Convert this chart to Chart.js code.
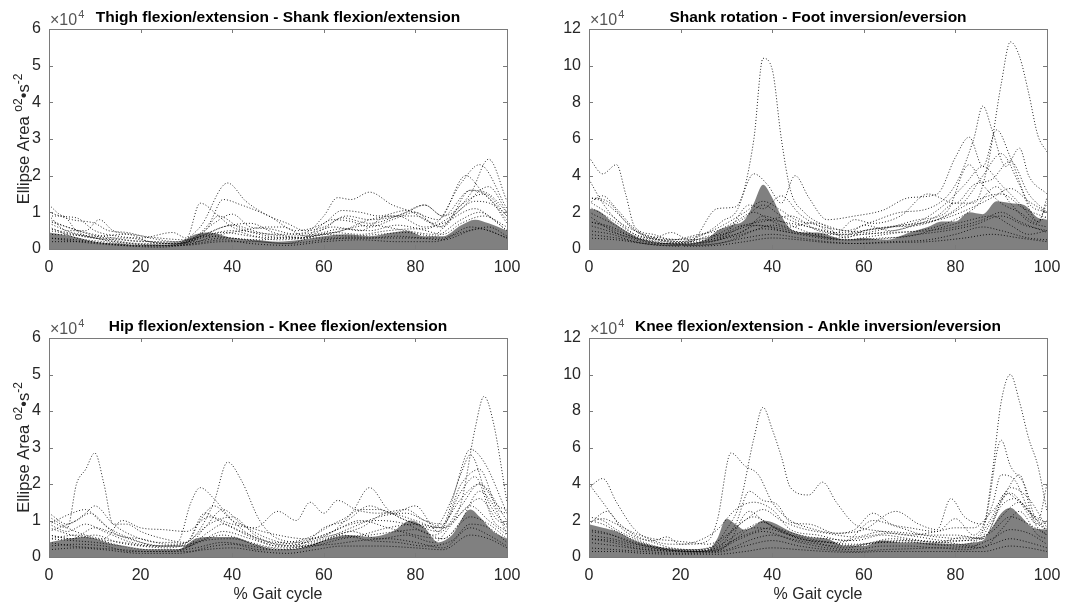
<!DOCTYPE html>
<html>
<head>
<meta charset="utf-8">
<script src="https://cdn.jsdelivr.net/npm/chart.js@4.4.1/dist/chart.umd.min.js"></script>
<style>
  html, body { margin: 0; padding: 0; background: #fff; }
  #wrap { position: relative; width: 1078px; height: 605px; overflow: hidden; }
  canvas { position: absolute; }
</style>
</head>
<body>
<div id="wrap">
  <canvas id="c1" width="539" height="300" style="left:0;top:0"></canvas>
  <canvas id="c2" width="539" height="300" style="left:539px;top:0"></canvas>
  <canvas id="c3" width="539" height="305" style="left:0;top:300px"></canvas>
  <canvas id="c4" width="539" height="305" style="left:539px;top:300px"></canvas>
</div>
<script>
// values are in units of 10^4 (deg^2 s^-2), x is % gait cycle
const xTicks = [0, 20, 40, 60, 80, 100];

// --- Thigh flexion/extension - Shank flexion/extension ---
const tsArea = [[0,0.45],[5,0.35],[10,0.2],[15,0.15],[20,0.1],[28,0.15],[32,0.4],[35,0.45],[40,0.3],[45,0.25],[50,0.2],[55,0.25],[60,0.35],[65,0.4],[70,0.35],[75,0.45],[78,0.5],[82,0.35],[86,0.35],[90,0.65],[93,0.8],[96,0.7],[100,0.5]];
const tsLines = [
  [[0,1.2],[3,0.9],[6,0.85],[10,0.5],[15,0.35],[20,0.3],[27,0.45],[30,0.3],[33,1.25],[37,0.9],[40,0.6],[45,0.45],[50,0.4],[56,0.45],[60,0.9],[63,1.4],[66,1.35],[70,1.55],[75,1.2],[80,1.0],[85,0.8],[91,2.0],[95,1.5],[100,0.9]],
  [[0,1.0],[5,0.8],[10,0.7],[13,0.5],[17,0.45],[22,0.3],[28,0.2],[33,0.6],[39,1.8],[43,1.3],[48,0.9],[52,0.7],[56,0.5],[60,0.6],[65,0.9],[70,0.8],[76,0.9],[82,1.2],[86,0.9],[92,1.5],[96,2.45],[100,1.3]],
  [[0,0.9],[4,0.5],[8,0.5],[11,0.8],[14,0.5],[18,0.4],[24,0.3],[30,0.25],[35,0.7],[38,1.35],[42,1.2],[48,0.9],[54,0.5],[60,0.7],[64,1.05],[68,1.0],[72,0.9],[78,1.05],[84,0.7],[90,1.8],[94,2.3],[100,1.1]],
  [[0,0.7],[5,0.45],[10,0.35],[17,0.4],[22,0.2],[28,0.15],[34,0.5],[37,0.9],[42,0.55],[48,0.35],[55,0.3],[62,0.8],[66,0.75],[70,0.6],[75,0.8],[80,1.0],[85,0.6],[90,1.1],[96,1.7],[100,1.0]],
  [[0,0.5],[5,0.4],[10,0.3],[17,0.3],[25,0.15],[32,0.3],[38,0.6],[44,0.7],[49,0.45],[55,0.3],[62,0.6],[68,0.5],[74,0.9],[80,0.9],[86,0.6],[92,1.6],[96,1.4],[100,0.7]],
  [[0,0.8],[5,0.55],[12,0.3],[20,0.15],[28,0.15],[35,0.4],[40,0.5],[45,0.35],[52,0.3],[58,0.35],[64,0.5],[70,0.8],[76,0.9],[82,0.6],[86,0.7],[93,1.1],[97,0.8],[100,0.5]],
  [[0,0.3],[6,0.25],[12,0.15],[20,0.1],[28,0.1],[34,0.35],[40,0.3],[46,0.2],[52,0.15],[60,0.4],[66,0.35],[72,0.4],[78,0.45],[84,0.35],[90,0.8],[94,1.0],[100,0.5]],
  [[0,0.6],[6,0.3],[12,0.2],[20,0.1],[26,0.15],[32,0.2],[38,0.3],[46,0.25],[52,0.3],[58,0.3],[64,0.3],[70,0.3],[76,0.35],[82,0.3],[86,0.3],[92,0.6],[96,0.5],[100,0.3]],
  [[0,0.4],[8,0.35],[14,0.2],[24,0.1],[30,0.12],[36,0.35],[42,0.5],[48,0.6],[51,0.6],[56,0.35],[62,0.45],[70,0.65],[78,0.5],[84,0.4],[90,1.2],[95,1.5],[100,0.9]],
  [[0,0.9],[3,0.9],[6,0.5],[10,0.3],[16,0.25],[22,0.2],[30,0.15],[36,0.7],[40,0.95],[44,0.6],[48,0.55],[54,0.4],[60,0.55],[64,0.85],[70,0.7],[78,1.0],[82,1.2],[86,0.9],[92,1.6],[96,1.5],[100,1.0]],
  [[0,0.3],[10,0.15],[20,0.08],[30,0.1],[38,0.2],[45,0.2],[52,0.15],[60,0.25],[66,0.3],[72,0.3],[80,0.3],[86,0.25],[92,0.5],[96,0.6],[100,0.35]],
  [[0,0.55],[6,0.4],[12,0.25],[18,0.15],[26,0.1],[32,0.25],[38,0.45],[44,0.35],[50,0.25],[56,0.3],[62,0.45],[68,0.4],[74,0.5],[80,0.55],[86,0.4],[90,0.7],[95,0.9],[100,0.6]],
  [[0,0.2],[8,0.2],[16,0.1],[24,0.05],[32,0.15],[38,0.25],[44,0.15],[52,0.1],[60,0.2],[68,0.25],[76,0.2],[84,0.2],[90,0.45],[94,0.55],[100,0.3]],
  [[0,0.75],[4,0.6],[8,0.45],[14,0.3],[20,0.2],[28,0.2],[34,0.4],[40,0.65],[46,0.45],[52,0.35],[58,0.4],[64,0.55],[70,0.5],[76,0.65],[82,0.55],[88,0.9],[93,1.3],[97,1.2],[100,0.8]]
];

// --- Shank rotation - Foot inversion/eversion ---
const sfArea = [[0,2.2],[2,2.1],[5,1.5],[8,1.0],[12,0.5],[18,0.3],[22,0.3],[26,0.6],[28,1.0],[31,1.3],[34,1.6],[36,2.5],[38,3.5],[40,2.8],[42,1.8],[44,1.1],[47,0.9],[50,0.9],[53,0.7],[56,0.5],[60,0.6],[65,0.5],[70,0.9],[74,1.2],[77,1.5],[80,1.5],[83,2.0],[86,1.9],[89,2.6],[92,2.5],[95,2.4],[98,1.7],[100,1.6]];
const sfLines = [
  [[0,2.6],[5,1.8],[10,0.8],[15,0.5],[20,0.4],[25,0.8],[29,1.5],[33,2.5],[36,6.0],[38,10.4],[40,9.8],[42,6.0],[44,3.2],[47,2.0],[52,1.2],[56,0.6],[60,1.0],[66,1.2],[72,1.5],[78,2.5],[82,3.5],[86,4.5],[90,3.5],[94,2.5],[98,1.5],[100,2.5]],
  [[0,1.5],[5,1.2],[10,0.6],[16,0.3],[22,0.4],[28,0.6],[34,1.3],[40,1.2],[46,0.9],[52,0.8],[58,0.8],[64,0.9],[70,1.2],[76,1.8],[80,2.5],[84,2.5],[87,4.5],[90,9.0],[92,11.3],[94,10.5],[96,8.5],[98,6.2],[100,5.3]],
  [[0,5.0],[3,4.1],[6,4.6],[8,3.0],[10,1.2],[14,0.8],[18,0.5],[22,0.6],[26,0.9],[30,1.4],[34,2.0],[38,2.6],[42,2.1],[46,1.5],[50,1.4],[56,1.0],[62,1.5],[68,2.0],[74,2.2],[80,3.5],[84,6.0],[86,7.8],[88,6.5],[91,4.5],[94,5.5],[96,4.0],[100,3.0]],
  [[0,3.8],[3,2.5],[6,1.6],[10,1.0],[16,0.5],[22,0.4],[28,2.2],[32,2.3],[36,4.1],[39,3.5],[42,2.5],[45,4.0],[48,2.8],[52,1.6],[58,1.8],[64,2.1],[70,2.8],[76,3.0],[80,5.0],[83,6.1],[86,4.5],[89,6.5],[92,5.0],[96,2.5],[100,2.0]],
  [[0,2.8],[4,2.6],[8,1.5],[12,0.7],[18,0.5],[24,0.8],[28,1.0],[32,1.5],[36,2.0],[40,1.5],[44,1.2],[48,1.4],[54,0.9],[58,1.6],[62,1.4],[68,1.8],[74,3.0],[80,2.5],[84,3.5],[88,3.8],[92,4.8],[96,3.0],[100,2.0]],
  [[0,2.3],[5,1.6],[10,0.8],[15,0.5],[20,0.3],[26,0.7],[30,0.9],[35,2.4],[38,2.2],[42,2.9],[46,1.9],[50,1.3],[56,1.0],[60,0.9],[66,1.2],[72,1.6],[78,2.0],[83,4.6],[86,3.5],[90,2.5],[94,2.0],[98,1.4],[100,2.8]],
  [[0,1.8],[5,1.0],[10,0.5],[16,0.3],[22,0.3],[28,0.6],[34,1.0],[38,1.8],[42,1.5],[48,0.9],[54,0.6],[60,0.8],[66,0.9],[72,1.0],[78,1.4],[84,2.2],[89,3.4],[92,2.5],[96,1.5],[100,1.2]],
  [[0,1.0],[5,0.8],[10,0.4],[16,0.2],[24,0.2],[30,0.4],[36,1.0],[40,1.3],[46,0.9],[52,0.6],[58,0.5],[64,0.6],[70,0.7],[76,1.1],[82,1.5],[88,1.8],[92,1.3],[96,0.8],[100,1.0]],
  [[0,0.6],[6,0.5],[12,0.3],[20,0.2],[28,0.3],[34,0.6],[40,0.8],[46,0.6],[52,0.4],[58,0.3],[66,0.4],[74,0.5],[80,0.8],[86,1.2],[90,1.0],[96,0.6],[100,0.5]],
  [[0,2.5],[3,2.9],[6,2.2],[10,1.1],[14,0.6],[18,0.9],[22,0.5],[28,0.7],[34,1.2],[38,1.6],[44,1.4],[50,1.1],[56,0.7],[60,1.3],[66,1.0],[72,1.4],[78,1.7],[84,2.3],[88,2.8],[92,3.3],[96,2.6],[100,2.0]],
  [[0,1.3],[4,1.0],[8,0.7],[14,0.4],[20,0.25],[26,0.4],[32,0.7],[38,1.1],[44,0.9],[50,0.7],[56,0.5],[62,0.7],[68,0.9],[74,1.0],[80,1.2],[86,1.6],[90,2.0],[94,1.5],[100,0.9]],
  [[0,2.0],[5,1.4],[10,0.7],[16,0.4],[22,0.35],[28,0.5],[34,1.3],[38,1.5],[44,1.8],[50,1.0],[56,0.8],[62,1.1],[68,1.3],[76,1.6],[82,2.6],[86,4.0],[90,5.2],[94,3.5],[98,1.5],[100,1.8]],
  [[0,1.5],[4,1.2],[8,0.8],[14,0.4],[20,0.25],[26,0.35],[32,0.8],[37,1.3],[42,1.0],[48,0.7],[54,0.5],[60,0.5],[66,0.6],[72,0.8],[78,1.0],[84,1.3],[90,1.8],[95,1.3],[100,1.0]],
  [[0,0.8],[6,0.6],[12,0.3],[20,0.15],[28,0.2],[34,0.4],[40,0.6],[46,0.5],[52,0.35],[58,0.3],[66,0.35],[74,0.4],[82,0.6],[88,0.8],[94,0.6],[100,0.4]],
  [[0,2.8],[3,2.6],[6,2.0],[10,1.0],[16,0.6],[22,0.5],[28,0.8],[34,1.7],[38,2.4],[42,1.8],[48,1.2],[54,0.9],[60,1.0],[66,1.2],[72,1.3],[78,1.8],[84,2.6],[90,3.0],[95,2.2],[100,1.7]]
];

// --- Hip flexion/extension - Knee flexion/extension ---
const hkArea = [[0,0.4],[4,0.5],[8,0.55],[10,0.5],[14,0.35],[18,0.25],[22,0.2],[28,0.2],[32,0.5],[35,0.55],[40,0.55],[45,0.35],[50,0.2],[55,0.25],[60,0.45],[65,0.6],[70,0.55],[75,0.7],[79,1.0],[82,0.8],[85,0.4],[88,0.6],[92,1.3],[94,1.1],[97,0.7],[100,0.5]];
const hkLines = [
  [[0,1.0],[4,0.8],[6,2.0],[8,2.4],[10,2.85],[12,2.0],[14,0.9],[17,0.9],[20,0.7],[25,0.5],[30,0.4],[33,1.0],[36,1.4],[40,1.0],[44,0.8],[50,0.6],[56,0.5],[62,0.6],[68,0.8],[74,1.2],[80,1.0],[85,0.8],[90,1.6],[94,2.0],[100,1.0]],
  [[0,0.6],[5,0.5],[10,0.6],[15,0.4],[20,0.3],[26,0.25],[32,0.4],[38,0.6],[44,0.4],[50,0.25],[56,0.3],[62,0.5],[68,0.6],[74,0.8],[80,0.9],[86,0.8],[90,1.5],[93,3.5],[95,4.4],[97,3.7],[100,1.5]],
  [[0,0.8],[5,0.6],[10,0.5],[16,0.4],[22,0.3],[28,0.3],[32,0.6],[36,1.5],[39,2.6],[42,2.1],[46,1.0],[50,0.5],[56,0.4],[62,0.7],[68,1.3],[72,1.3],[78,1.0],[84,0.8],[88,1.6],[92,2.95],[95,2.6],[100,1.2]],
  [[0,1.2],[4,0.9],[8,1.2],[10,1.4],[14,0.9],[18,0.6],[24,0.4],[28,0.4],[31,1.5],[33,1.9],[36,1.6],[40,1.0],[44,0.6],[50,0.4],[56,0.5],[62,0.9],[66,1.2],[70,1.9],[74,1.3],[80,0.9],[85,0.7],[90,2.3],[92,2.8],[96,1.5],[100,0.8]],
  [[0,1.1],[4,0.8],[8,0.6],[12,0.5],[16,1.0],[20,0.8],[25,0.75],[30,0.7],[35,1.1],[40,0.9],[45,0.8],[50,1.25],[54,1.0],[57,1.5],[60,1.2],[63,1.55],[67,1.3],[72,1.2],[78,1.3],[82,1.0],[86,0.9],[90,2.0],[94,2.4],[98,1.3],[100,1.2]],
  [[0,0.9],[5,1.2],[8,1.3],[11,1.0],[15,0.6],[20,0.5],[26,0.35],[30,0.4],[34,1.2],[37,1.0],[40,0.8],[45,0.5],[50,0.3],[56,0.4],[60,0.8],[65,1.0],[70,1.4],[75,1.2],[80,1.4],[85,0.7],[90,1.8],[93,2.2],[97,1.0],[100,0.7]],
  [[0,0.5],[6,0.6],[10,0.5],[16,0.3],[22,0.2],[28,0.2],[34,0.5],[38,0.7],[44,0.5],[50,0.3],[56,0.3],[62,0.55],[66,0.7],[72,0.5],[78,0.6],[84,0.4],[88,0.9],[92,1.4],[96,1.0],[100,0.6]],
  [[0,0.3],[6,0.35],[12,0.3],[18,0.15],[26,0.15],[32,0.25],[38,0.4],[44,0.3],[50,0.2],[56,0.3],[62,0.35],[68,0.45],[74,0.5],[80,0.4],[86,0.25],[92,0.8],[96,0.6],[100,0.3]],
  [[0,0.7],[6,1.0],[9,1.2],[13,0.8],[18,0.5],[24,0.3],[30,0.4],[35,0.9],[40,1.1],[45,0.6],[50,0.35],[56,0.45],[62,0.7],[68,1.0],[74,0.8],[80,0.6],[86,0.5],[90,1.0],[94,1.8],[98,1.2],[100,0.6]],
  [[0,0.4],[5,0.3],[10,0.25],[16,0.2],[22,0.15],[30,0.15],[36,0.3],[40,0.35],[46,0.2],[52,0.2],[58,0.35],[64,0.6],[70,0.45],[76,0.4],[82,0.3],[88,0.45],[92,0.9],[96,0.8],[100,0.4]],
  [[0,0.6],[5,0.5],[10,0.8],[15,0.6],[20,0.4],[25,0.3],[30,0.3],[35,0.7],[38,0.9],[42,0.7],[48,0.4],[54,0.3],[60,0.5],[66,0.8],[72,1.1],[78,1.2],[82,1.0],[86,0.8],[90,1.4],[94,2.0],[98,1.4],[100,1.3]],
  [[0,0.5],[5,0.45],[10,0.4],[16,0.3],[22,0.2],[28,0.2],[34,0.45],[40,0.5],[46,0.3],[52,0.2],[58,0.3],[64,0.5],[70,0.6],[76,0.7],[80,0.75],[86,0.5],[92,1.1],[96,0.9],[100,0.5]],
  [[0,0.2],[6,0.25],[12,0.2],[20,0.1],[28,0.1],[34,0.2],[40,0.25],[46,0.15],[52,0.1],[58,0.2],[64,0.3],[72,0.3],[80,0.25],[86,0.2],[92,0.6],[96,0.5],[100,0.25]],
  [[0,0.9],[4,0.7],[8,0.9],[12,0.7],[18,0.4],[24,0.3],[30,0.3],[34,0.8],[38,1.3],[42,0.9],[48,0.5],[54,0.35],[60,0.6],[66,0.9],[72,1.0],[78,0.9],[84,0.6],[90,1.2],[94,1.6],[98,1.0],[100,0.9]]
];

// --- Knee flexion/extension - Ankle inversion/eversion ---
const kaArea = [[0,1.8],[3,1.6],[6,1.4],[10,0.9],[14,0.6],[18,0.4],[22,0.35],[26,0.4],[28,1.0],[30,2.1],[32,1.8],[34,1.5],[36,1.7],[38,2.0],[40,1.9],[44,1.4],[48,1.1],[52,1.0],[56,0.6],[60,0.6],[64,0.9],[68,0.8],[72,0.8],[76,0.75],[80,0.7],[84,0.8],[86,0.9],[88,1.6],[90,2.4],[92,2.7],[94,2.3],[97,1.6],[100,1.5]];
const kaLines = [
  [[0,2.0],[3,1.8],[6,1.4],[10,0.9],[16,0.5],[22,0.4],[27,0.6],[30,1.5],[33,3.0],[36,6.5],[38,8.2],[40,7.0],[42,5.5],[44,3.8],[48,3.4],[51,4.1],[54,3.0],[58,1.8],[64,1.4],[70,1.2],[76,1.4],[80,1.6],[84,1.6],[88,2.5],[92,3.5],[96,2.5],[100,1.8]],
  [[0,1.0],[5,0.8],[10,0.5],[16,0.35],[22,0.3],[28,0.5],[34,1.2],[40,1.6],[46,1.0],[52,0.8],[58,0.7],[64,0.8],[70,0.9],[76,0.8],[82,0.9],[86,1.5],[88,4.5],[90,8.5],[92,10.0],[94,8.5],[96,6.5],[98,5.0],[100,2.5]],
  [[0,3.8],[3,4.3],[6,3.0],[10,1.5],[14,0.9],[18,0.7],[22,0.7],[26,0.9],[28,2.0],[31,5.7],[34,5.0],[37,4.5],[40,3.0],[44,2.0],[48,1.6],[54,1.3],[60,1.5],[67,2.5],[72,1.8],[76,1.5],[79,3.2],[82,2.2],[86,1.8],[90,6.4],[92,5.0],[95,4.0],[98,2.0],[100,4.0]],
  [[0,4.0],[3,3.0],[6,2.0],[10,1.2],[14,0.8],[18,0.5],[24,0.4],[28,0.7],[32,1.8],[35,3.6],[38,3.1],[41,2.9],[44,1.9],[48,1.8],[54,1.3],[58,1.5],[62,2.4],[66,1.8],[70,1.6],[76,1.4],[80,2.1],[84,1.2],[88,2.8],[90,4.5],[93,4.2],[96,2.6],[100,1.5]],
  [[0,1.8],[4,2.5],[7,1.6],[10,1.1],[14,0.9],[17,1.1],[20,0.7],[24,0.9],[28,1.5],[32,2.6],[36,3.0],[40,2.6],[44,1.5],[50,1.2],[56,0.9],[62,2.0],[68,1.6],[74,1.2],[80,1.2],[86,1.0],[90,3.0],[94,4.5],[97,2.0],[100,1.2]],
  [[0,1.2],[5,1.0],[10,0.7],[16,0.5],[22,0.4],[28,0.6],[34,1.5],[38,1.9],[42,1.4],[48,0.9],[54,0.6],[60,0.7],[66,1.0],[72,0.9],[78,0.8],[84,0.6],[88,2.0],[92,3.8],[96,3.2],[100,1.6]],
  [[0,0.8],[6,0.6],[12,0.4],[18,0.3],[24,0.25],[30,0.4],[36,1.0],[40,1.2],[46,0.8],[52,0.5],[58,0.4],[64,0.6],[70,0.6],[76,0.5],[82,0.5],[88,1.0],[92,1.5],[96,1.3],[100,0.7]],
  [[0,1.5],[4,1.3],[8,0.9],[14,0.5],[20,0.35],[26,0.3],[30,0.6],[35,2.5],[38,2.0],[42,1.4],[48,1.0],[54,0.8],[60,1.1],[66,1.3],[72,1.1],[78,0.9],[84,0.9],[88,2.2],[91,3.5],[94,3.0],[98,1.8],[100,2.0]],
  [[0,0.5],[6,0.4],[12,0.3],[20,0.2],[28,0.25],[34,0.6],[40,0.9],[46,0.6],[52,0.4],[58,0.3],[64,0.4],[70,0.45],[76,0.5],[82,0.4],[88,0.7],[92,1.0],[96,0.8],[100,0.5]],
  [[0,2.2],[3,2.0],[6,1.5],[10,1.0],[16,0.5],[22,0.35],[28,0.5],[32,1.6],[36,2.2],[40,1.7],[46,1.2],[52,1.0],[58,0.9],[64,1.2],[70,1.0],[76,0.8],[82,1.1],[86,1.0],[90,2.8],[93,3.2],[97,2.2],[100,1.4]],
  [[0,1.0],[5,0.9],[10,0.6],[16,0.4],[22,0.3],[28,0.4],[33,1.0],[38,1.4],[44,1.0],[50,0.7],[56,0.5],[62,0.8],[68,0.9],[74,0.7],[80,0.6],[86,0.5],[90,1.5],[94,2.5],[98,1.2],[100,1.0]],
  [[0,1.4],[5,1.2],[10,0.8],[16,0.45],[22,0.3],[28,0.4],[32,1.0],[36,1.6],[40,1.5],[46,1.0],[52,0.8],[58,0.6],[64,0.8],[70,0.8],[76,0.7],[82,0.7],[88,1.4],[92,2.2],[96,1.8],[100,1.2]],
  [[0,0.3],[6,0.3],[12,0.2],[20,0.15],[28,0.15],[34,0.3],[40,0.5],[46,0.4],[52,0.3],[58,0.25],[64,0.3],[70,0.3],[78,0.3],[86,0.3],[92,0.6],[96,0.5],[100,0.3]],
  [[0,1.9],[3,2.1],[6,1.8],[10,1.3],[14,1.0],[18,0.9],[22,0.8],[26,0.7],[30,1.2],[34,2.0],[38,2.6],[42,2.0],[46,1.6],[52,1.3],[58,1.1],[64,1.4],[70,1.3],[76,1.1],[82,1.0],[86,1.1],[90,2.2],[94,3.0],[98,1.8],[100,1.5]]
];

const panels = [
  { id: "c1", title: "Thigh flexion/extension - Shank flexion/extension", area: tsArea, lines: tsLines, yMax: 6, yStep: 1, box: [49, 507, 29, 249], yLabel: true, xLabel: false },
  { id: "c2", title: "Shank rotation - Foot inversion/eversion", area: sfArea, lines: sfLines, yMax: 12, yStep: 2, box: [50, 508, 29, 249], yLabel: false, xLabel: false },
  { id: "c3", title: "Hip flexion/extension - Knee flexion/extension", area: hkArea, lines: hkLines, yMax: 6, yStep: 1, box: [49, 507, 38, 257], yLabel: true, xLabel: true },
  { id: "c4", title: "Knee flexion/extension - Ankle inversion/eversion", area: kaArea, lines: kaLines, yMax: 12, yStep: 2, box: [50, 508, 38, 257], yLabel: false, xLabel: true }
];

const FONT = "'Liberation Sans', Arial, Helvetica, sans-serif";
const TEXT = "#262626";

const toXY = (pairs) => pairs.map((p) => ({ x: p[0], y: p[1] }));

function drawRich(ctx, parts, cx, cy) {
  // parts: [text, isSuperscript]
  let total = 0;
  parts.forEach((p) => {
    ctx.font = (p[1] ? "12px " : "16.5px ") + FONT;
    total += ctx.measureText(p[0]).width;
  });
  let x = cx - total / 2;
  parts.forEach((p) => {
    ctx.font = (p[1] ? "12px " : "16.5px ") + FONT;
    ctx.fillText(p[0], x, p[1] ? cy - 7 : cy);
    x += ctx.measureText(p[0]).width;
  });
}

const decorPlugin = {
  id: "decor",
  afterDraw(chart, args, opts) {
    const ctx = chart.ctx;
    const a = chart.chartArea;
    const xs = chart.scales.x;
    const ys = chart.scales.y;
    ctx.save();

    // axes box
    ctx.strokeStyle = "#7a7a7a";
    ctx.lineWidth = 1;
    ctx.strokeRect(Math.round(a.left) + 0.5, Math.round(a.top) + 0.5, Math.round(a.right - a.left), Math.round(a.bottom - a.top));

    // inward ticks on all four sides
    ctx.beginPath();
    xs.ticks.forEach((t) => {
      const px = Math.round(xs.getPixelForValue(t.value)) + 0.5;
      ctx.moveTo(px, a.bottom); ctx.lineTo(px, a.bottom - 4);
      ctx.moveTo(px, a.top); ctx.lineTo(px, a.top + 4);
    });
    ys.ticks.forEach((t) => {
      const py = Math.round(ys.getPixelForValue(t.value)) + 0.5;
      ctx.moveTo(a.left, py); ctx.lineTo(a.left + 4, py);
      ctx.moveTo(a.right, py); ctx.lineTo(a.right - 4, py);
    });
    ctx.stroke();

    // title
    ctx.fillStyle = "#000";
    ctx.font = "bold 15.5px " + FONT;
    ctx.textAlign = "center";
    ctx.textBaseline = "alphabetic";
    ctx.fillText(opts.title, (a.left + a.right) / 2, a.top - 7);

    // x10^4 exponent
    ctx.fillStyle = "#555";
    ctx.textAlign = "left";
    ctx.font = "16px " + FONT;
    ctx.fillText("\u00d710", a.left + 1, a.top - 4);
    const w = ctx.measureText("\u00d710").width;
    ctx.font = "11px " + FONT;
    ctx.fillText("4", a.left + 1 + w + 1, a.top - 11);

    ctx.fillStyle = TEXT;
    if (opts.yLabel) {
      ctx.save();
      ctx.translate(29, (a.top + a.bottom) / 2);
      ctx.rotate(-Math.PI / 2);
      ctx.textAlign = "left";
      drawRich(ctx, [["Ellipse Area ", false], ["o", true], ["2", true], ["\u2022", false], ["s", false], ["-2", true]], 0, 0);
      ctx.restore();
    }
    if (opts.xLabel) {
      ctx.font = "16px " + FONT;
      ctx.textAlign = "center";
      ctx.textBaseline = "middle";
      ctx.fillText("% Gait cycle", (a.left + a.right) / 2, a.bottom + 38);
    }
    ctx.restore();
  }
};

panels.forEach((p) => {
  const canvas = document.getElementById(p.id);
  const W = canvas.width;
  const H = canvas.height;
  const [left, right, top, bottom] = p.box;

  const datasets = p.lines.map((line) => ({
    data: toXY(line),
    borderColor: "rgba(0,0,0,0.85)",
    borderWidth: 1,
    borderDash: [1, 2],
    pointRadius: 0,
    fill: false,
    tension: 0.4,
    cubicInterpolationMode: "monotone",
    order: 1
  }));
  datasets.push({
    data: toXY(p.area),
    borderWidth: 0,
    borderColor: "rgba(0,0,0,0)",
    backgroundColor: "#808080",
    pointRadius: 0,
    fill: "origin",
    tension: 0.3,
    cubicInterpolationMode: "monotone",
    order: 10
  });

  new Chart(canvas, {
    type: "line",
    data: { datasets: datasets },
    options: {
      responsive: false,
      animation: false,
      devicePixelRatio: 1,
      layout: { padding: { left: 0, right: W - right, top: top, bottom: 0 } },
      plugins: {
        legend: { display: false },
        tooltip: { enabled: false },
        title: { display: false },
        decor: { title: p.title, yLabel: p.yLabel, xLabel: p.xLabel }
      },
      scales: {
        x: {
          type: "linear",
          min: 0,
          max: 100,
          afterBuildTicks: (s) => { s.ticks = xTicks.map((v) => ({ value: v })); },
          afterFit: (s) => { s.height = H - bottom; },
          grid: { display: false, drawTicks: false },
          border: { display: false },
          ticks: { padding: 9, color: TEXT, font: { family: FONT, size: 16 }, maxRotation: 0 }
        },
        y: {
          min: 0,
          max: p.yMax,
          afterFit: (s) => { s.width = left; },
          grid: { display: false, drawTicks: false },
          border: { display: false },
          ticks: { stepSize: p.yStep, padding: 8, color: TEXT, font: { family: FONT, size: 16 } }
        }
      }
    },
    plugins: [decorPlugin]
  });
});
</script>
</body>
</html>
